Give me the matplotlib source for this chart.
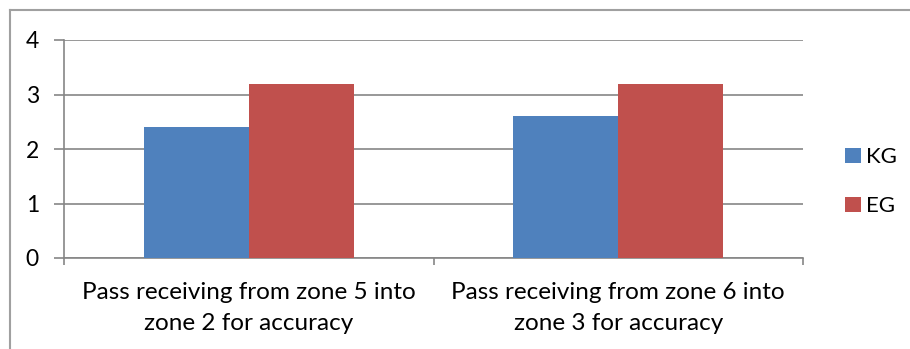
import numpy as np
import matplotlib.pyplot as plt

# data
categories = ['Pass receiving from zone 5 into\nzone 2 for accuracy',
              'Pass receiving from zone 6 into\nzone 3 for accuracy']
kg = [2.4, 2.6]
eg = [3.2, 3.2]
series_names = ['KG', 'EG']
colors = ['#4F81BD', '#C0504D']
grid_col = '#868686'

plt.rcParams['font.family'] = ['Lato', 'DejaVu Sans']

fig = plt.figure(figsize=(9.1, 3.49), dpi=100)
ax = fig.add_axes([64 / 910, 91 / 349, 739 / 910, 218 / 349])

x = np.arange(len(categories))
w = 0.284
ax.bar(x - w / 2, kg, w, color=colors[0], label=series_names[0], zorder=3)
ax.bar(x + w / 2, eg, w, color=colors[1], label=series_names[1], zorder=3)

ax.set_xlim(-0.5, len(categories) - 0.5)
ax.set_ylim(0, 4)
ax.set_yticks([0, 1, 2, 3, 4])
ax.yaxis.grid(True, color=grid_col, linewidth=1.2, zorder=0)
ax.set_axisbelow(True)

for s in ['top', 'right']:
    ax.spines[s].set_visible(False)
for s in ['left', 'bottom']:
    ax.spines[s].set_color(grid_col)
    ax.spines[s].set_linewidth(1.2)

ax.tick_params(axis='y', length=7, color=grid_col, width=1.2, labelsize=16.5, pad=11)
ax.set_xticks(x)
ax.set_xticklabels(categories, fontsize=17.5, linespacing=1.6)
ax.tick_params(axis='x', length=0, pad=17)
ax.set_xticks([-0.5, 0.5, 1.5], minor=True)
ax.tick_params(axis='x', which='minor', length=5, color=grid_col, width=1.2)

leg = ax.legend(loc='center left', bbox_to_anchor=(1.03, 0.35), frameon=False,
                fontsize=16, handlelength=0.7, handleheight=0.7,
                handletextpad=0.25, labelspacing=1.3)

# chart area border (left and top visible in the crop)
fig.add_artist(plt.Line2D([10 / 910, 10 / 910], [0, 1 - 10 / 349], color='#A0A0A0', lw=1.5))
fig.add_artist(plt.Line2D([10 / 910, 1], [1 - 10 / 349, 1 - 10 / 349], color='#A0A0A0', lw=1.5))

fig.savefig('out.png', dpi=100)
